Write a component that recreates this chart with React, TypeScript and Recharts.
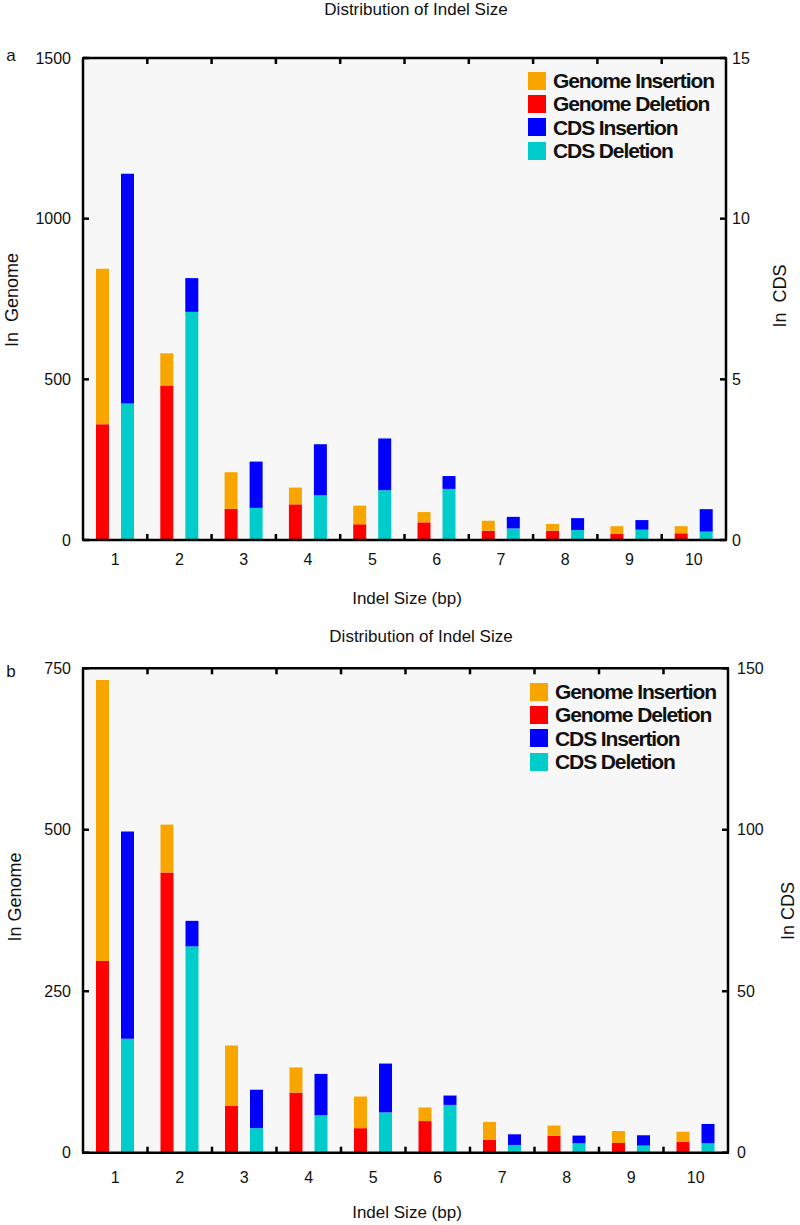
import React from 'react';
import { BarChart, Bar, XAxis, YAxis, Legend } from 'recharts';

// ---------- data ----------
const categories = ['1', '2', '3', '4', '5', '6', '7', '8', '9', '10'];
const seriesNames = ['Genome Insertion', 'Genome Deletion', 'CDS Insertion', 'CDS Deletion'];

// panel a
const aGenomeDel = [360, 481, 97, 111, 49, 55, 29, 29, 19, 21];
const aGenomeIns = [484, 100, 114, 52, 58, 32, 31, 21, 24, 22];
const aCdsDel = [4.25, 7.1, 1.0, 1.39, 1.55, 1.59, 0.36, 0.31, 0.32, 0.26];
const aCdsIns = [7.15, 1.05, 1.44, 1.59, 1.61, 0.4, 0.36, 0.37, 0.3, 0.7];
const aLeftTicks = [0, 500, 1000, 1500];
const aRightTicks = [0, 5, 10, 15];

// panel b
const bGenomeDel = [297, 434, 73, 93, 38, 49, 20, 26, 15, 17];
const bGenomeIns = [435, 74, 93, 39, 49, 21, 27.5, 16, 18.6, 15.5];
const bCdsDel = [35.3, 63.9, 7.6, 11.6, 12.5, 14.8, 2.4, 2.9, 2.2, 2.9];
const bCdsIns = [64.2, 7.9, 11.9, 12.8, 15.1, 2.9, 3.3, 2.4, 3.2, 6.0];
const bLeftTicks = [0, 250, 500, 750];
const bRightTicks = [0, 50, 100, 150];

// ---------- styles ----------
const FONT = '"Liberation Sans", Arial, Helvetica, sans-serif';
const COLORS: Record<string, string> = {
  'Genome Insertion': '#F8A500',
  'Genome Deletion': '#FF0000',
  'CDS Insertion': '#0000FF',
  'CDS Deletion': '#00CCCC',
};
const TEXT = '#111';
const LINE_W = 2.5;
const TICK_LEN = 6;

function buildRows(gDel: number[], gIns: number[], cDel: number[], cIns: number[]) {
  return categories.map((c, i) => ({ cat: c, gDel: gDel[i], gIns: gIns[i], cDel: cDel[i], cIns: cIns[i] }));
}

const renderLegend = () => (
  <div style={{ fontFamily: FONT }}>
    {seriesNames.map((n) => (
      <div key={n} style={{ display: 'flex', alignItems: 'center', height: 23.3 }}>
        <div style={{ width: 18, height: 18, background: COLORS[n], marginRight: 7 }} />
        <span style={{ fontSize: 21, fontWeight: 'bold', lineHeight: '23px', letterSpacing: -1.1, color: '#111', whiteSpace: 'nowrap' }}>{n}</span>
      </div>
    ))}
  </div>
);

function Panel(p: any) {
  const catAxisH = 40;
  const yAxisW = 60;
  const edgeH = 1;
  const plotLeft = 83;
  const plotW = p.plotRight - plotLeft;
  const plotH = p.plotBottom - p.plotTop;
  const bandHalf = plotW / categories.length / 2;
  const margin = {
    top: p.plotTop - edgeH,
    right: 800 - p.plotRight - yAxisW,
    bottom: p.height - p.plotBottom - catAxisH,
    left: plotLeft - yAxisW,
  };
  const catM = p.catTickMargin;
  const leftM = 12;
  const rightM = p.rightTickGap;

  // category tick: label at band centre, inward tick marks at band boundaries (bottom and top)
  const CatTick = (t: any) => {
    const off = t.payload && typeof t.payload.offset === 'number' && t.payload.offset > 0 ? t.payload.offset : bandHalf;
    const bx = t.x + off;
    const axisY = t.y - catM;
    const last = t.index >= categories.length - 1;
    return (
      <g>
        {!last && <line x1={bx} x2={bx} y1={axisY} y2={axisY - TICK_LEN} stroke="#000" strokeWidth={LINE_W} />}
        {!last && <line x1={bx} x2={bx} y1={axisY - plotH} y2={axisY - plotH + TICK_LEN} stroke="#000" strokeWidth={LINE_W} />}
        <text x={t.x} y={t.y} dy="0.71em" textAnchor="middle" fill={TEXT} stroke="none" fontSize={16} fontFamily={FONT}>
          {t.payload.value}
        </text>
      </g>
    );
  };
  const LeftTick = (t: any) => {
    const ax = t.x + leftM;
    return (
      <g>
        <line x1={ax} x2={ax + TICK_LEN} y1={t.y} y2={t.y} stroke="#000" strokeWidth={LINE_W} />
        <text x={t.x} y={t.y} dy="0.355em" textAnchor="end" fill={TEXT} stroke="none" fontSize={16} fontFamily={FONT}>
          {t.payload.value}
        </text>
      </g>
    );
  };
  const RightTick = (t: any) => {
    const ax = t.x - rightM;
    return (
      <g>
        <line x1={ax} x2={ax - TICK_LEN} y1={t.y} y2={t.y} stroke="#000" strokeWidth={LINE_W} />
        <text x={t.x} y={t.y} dy="0.355em" textAnchor="start" fill={TEXT} stroke="none" fontSize={16} fontFamily={FONT}>
          {t.payload.value}
        </text>
      </g>
    );
  };

  const centered = (x: number, y: number, extra: React.CSSProperties = {}): React.CSSProperties => ({
    position: 'absolute', left: x, top: y, transform: 'translate(-50%, -50%)', whiteSpace: 'pre',
    fontFamily: FONT, color: TEXT, lineHeight: 1, ...extra,
  });
  const rot = 'translate(-50%, -50%) rotate(-90deg)';
  const hw = LINE_W / 2;
  return (
    <div style={{ position: 'absolute', left: 0, top: p.top, width: 800, height: p.height }}>
      {/* plot-area background and frame, behind the transparent chart svg */}
      <div
        style={{
          position: 'absolute',
          left: plotLeft - hw,
          top: p.plotTop - hw,
          width: plotW + LINE_W,
          height: plotH + LINE_W,
          boxSizing: 'border-box',
          border: `${LINE_W}px solid #000`,
          background: '#F7F7F7',
        }}
      />
      <BarChart width={800} height={p.height} data={p.rows} margin={margin} barSize={13} barGap={12} style={{ position: 'absolute', left: 0, top: 0 }}>
        <XAxis dataKey="cat" height={catAxisH} interval={0} tickSize={0} tickMargin={catM}
          stroke="#000" strokeWidth={LINE_W} axisLine tickLine={false} tick={CatTick} />
        <XAxis xAxisId="edgeTop" type="number" orientation="top" domain={[0, 10]} allowDataOverflow ticks={[0, 10]} interval={0}
          height={edgeH} tick={false} tickLine={false} stroke="#000" strokeWidth={LINE_W} axisLine />
        <YAxis yAxisId="left" domain={[0, p.leftMax]} ticks={p.leftTicks} interval={0} width={yAxisW}
          tickSize={0} tickMargin={leftM} stroke="#000" strokeWidth={LINE_W} axisLine tickLine={false} tick={LeftTick} />
        <YAxis yAxisId="right" orientation="right" domain={[0, p.rightMax]} ticks={p.rightTicks} interval={0} width={yAxisW}
          tickSize={0} tickMargin={rightM} stroke="#000" strokeWidth={LINE_W} axisLine tickLine={false} tick={RightTick} />
        <Bar yAxisId="left" dataKey="gDel" name="Genome Deletion" stackId="g" fill={COLORS['Genome Deletion']} isAnimationActive={false} />
        <Bar yAxisId="left" dataKey="gIns" name="Genome Insertion" stackId="g" fill={COLORS['Genome Insertion']} isAnimationActive={false} />
        <Bar yAxisId="right" dataKey="cDel" name="CDS Deletion" stackId="c" fill={COLORS['CDS Deletion']} isAnimationActive={false} />
        <Bar yAxisId="right" dataKey="cIns" name="CDS Insertion" stackId="c" fill={COLORS['CDS Insertion']} isAnimationActive={false} />
        <Legend layout="vertical" align="center" verticalAlign="middle" content={renderLegend}
          wrapperStyle={{ top: p.legendTop, left: p.legendLeft, width: 200, bottom: 'auto', right: 'auto' }} />
      </BarChart>
      <div style={centered(p.titleX, p.titleY, { fontSize: 17 })}>{p.title}</div>
      <div style={centered(11, p.letterY, { fontSize: 17 })}>{p.letter}</div>
      <div style={centered(407, p.xLabelY, { fontSize: 17 })}>Indel Size (bp)</div>
      <div style={centered(p.leftLabelX, p.leftLabelY, { fontSize: 18, transform: rot })}>{p.leftLabel}</div>
      <div style={centered(p.rightLabelX, p.rightLabelY, { fontSize: 18, transform: rot })}>{p.rightLabel}</div>
    </div>
  );
}

export default function App() {
  const rowsA = buildRows(aGenomeDel, aGenomeIns, aCdsDel, aCdsIns);
  const rowsB = buildRows(bGenomeDel, bGenomeIns, bCdsDel, bCdsIns);
  return (
    <div style={{ position: 'absolute', left: 0, top: 0, width: 800, height: 1225, background: '#fff', fontFamily: FONT }}>
      <Panel top={0} height={612} plotTop={58} plotBottom={540} plotRight={726} rows={rowsA}
        leftMax={1500} rightMax={15} leftTicks={aLeftTicks} rightTicks={aRightTicks} rightTickGap={6} catTickMargin={14}
        letter="a" letterY={55} title="Distribution of Indel Size" titleX={416} titleY={9} xLabelY={598}
        leftLabel={'In  Genome'} leftLabelX={12} leftLabelY={300} rightLabel={'In  CDS'} rightLabelX={780} rightLabelY={296}
        legendTop={69} legendLeft={528} />
      <Panel top={612} height={613} plotTop={56.3} plotBottom={540.7} plotRight={728} rows={rowsB}
        leftMax={750} rightMax={150} leftTicks={bLeftTicks} rightTicks={bRightTicks} rightTickGap={9} catTickMargin={19}
        letter="b" letterY={59} title="Distribution of Indel Size" titleX={421} titleY={24} xLabelY={600}
        leftLabel={'In Genome'} leftLabelX={14.5} leftLabelY={284.5} rightLabel={'In CDS'} rightLabelX={788} rightLabelY={299}
        legendTop={68} legendLeft={530} />
    </div>
  );
}
